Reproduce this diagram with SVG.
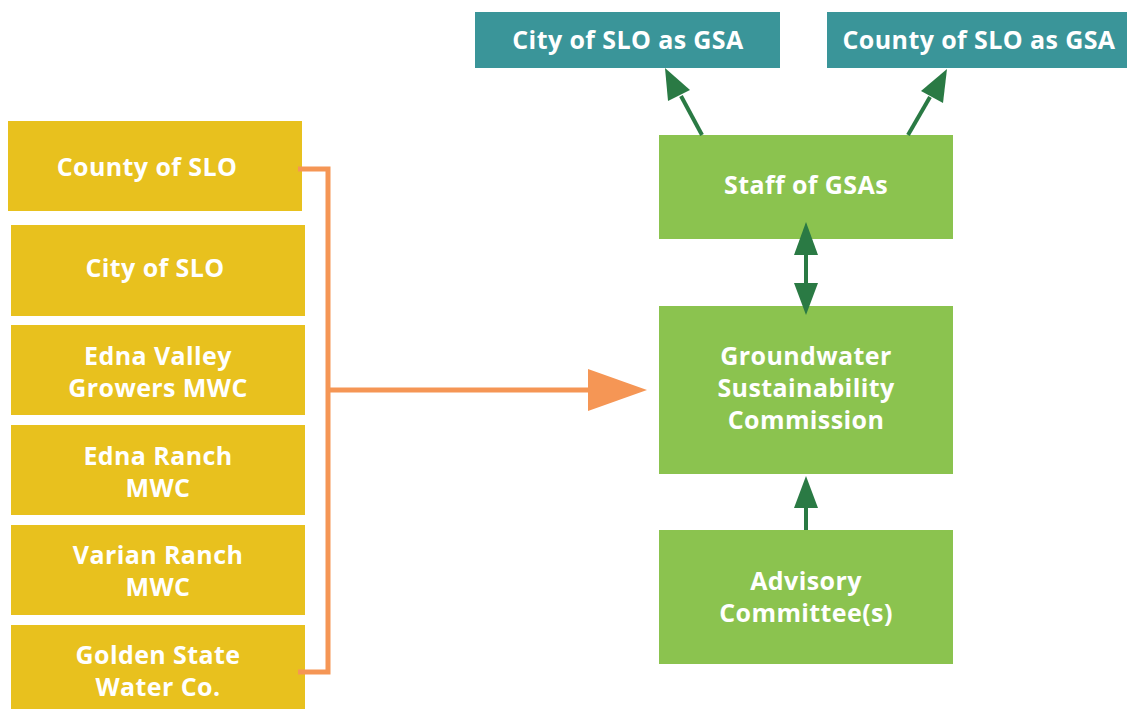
<svg xmlns="http://www.w3.org/2000/svg" width="1127" height="709" viewBox="0 0 1127 709">
  <defs>
    <style>
      .member { fill: #E8C11E; }
      .body { fill: #8BC34F; }
      .gsa { fill: #3A9599; }
      .label { font-family: "Open Sans", "Liberation Sans", sans-serif; font-weight: 700; font-size: 25px; letter-spacing: 0.4px; fill: #FFFFFF; text-anchor: middle; }
      .link { stroke: #2A7A44; stroke-width: 4; fill: none; }
      .head { fill: #2A7A44; }
      .bracket { stroke: #F59655; stroke-width: 5; fill: none; }
    </style>
  </defs>
  <rect width="1127" height="709" fill="#FFFFFF"/>

  <!-- member agencies -->
  <g id="county-slo">
    <rect class="member" x="8" y="121" width="294" height="90"/>
    <text class="label" x="147" y="176">County of SLO</text>
  </g>
  <g id="city-slo">
    <rect class="member" x="11" y="225" width="294" height="91"/>
    <text class="label" x="155" y="277">City of SLO</text>
  </g>
  <g id="edna-valley">
    <rect class="member" x="11" y="325" width="294" height="90"/>
    <text class="label" x="158" y="365">Edna Valley</text>
    <text class="label" x="158" y="397">Growers MWC</text>
  </g>
  <g id="edna-ranch">
    <rect class="member" x="11" y="425" width="294" height="90"/>
    <text class="label" x="158" y="465">Edna Ranch</text>
    <text class="label" x="158" y="497">MWC</text>
  </g>
  <g id="varian-ranch">
    <rect class="member" x="11" y="525" width="294" height="90"/>
    <text class="label" x="158" y="564">Varian Ranch</text>
    <text class="label" x="158" y="596">MWC</text>
  </g>
  <g id="golden-state">
    <rect class="member" x="11" y="625" width="294" height="84"/>
    <text class="label" x="158" y="664">Golden State</text>
    <text class="label" x="158" y="696">Water Co.</text>
  </g>

  <!-- GSAs -->
  <g id="city-gsa">
    <rect class="gsa" x="475" y="12" width="305" height="56"/>
    <text class="label" x="628" y="49">City of SLO as GSA</text>
  </g>
  <g id="county-gsa">
    <rect class="gsa" x="827" y="12" width="300" height="56"/>
    <text class="label" x="979" y="49">County of SLO as GSA</text>
  </g>

  <!-- governance bodies -->
  <g id="staff">
    <rect class="body" x="659" y="135" width="294" height="104"/>
    <text class="label" x="806" y="194">Staff of GSAs</text>
  </g>
  <g id="commission">
    <rect class="body" x="659" y="306" width="294" height="168"/>
    <text class="label" x="806" y="365">Groundwater</text>
    <text class="label" x="806" y="397">Sustainability</text>
    <text class="label" x="806" y="429">Commission</text>
  </g>
  <g id="advisory">
    <rect class="body" x="659" y="530" width="294" height="134"/>
    <text class="label" x="806" y="590">Advisory</text>
    <text class="label" x="806" y="622">Committee(s)</text>
  </g>

  <!-- connectors -->
  <g id="connectors">
    <path class="bracket" d="M298 169 H328 V672 H298"/>
    <path class="bracket" d="M328 390 H592"/>
    <polygon fill="#F59655" points="588,369 647,390 588,411"/>

    <line class="link" x1="702" y1="135" x2="681" y2="96"/>
    <polygon class="head" points="665,68 690,90 668,101"/>
    <line class="link" x1="908" y1="135" x2="930" y2="97"/>
    <polygon class="head" points="947,69 943,103 921,91"/>

    <line class="link" x1="806" y1="250" x2="806" y2="290"/>
    <polygon class="head" points="806,222 818,255 794,255"/>
    <polygon class="head" points="806,315 818,283 794,283"/>

    <line class="link" x1="806" y1="505" x2="806" y2="530"/>
    <polygon class="head" points="806,476 818,508 794,508"/>
  </g>
</svg>
